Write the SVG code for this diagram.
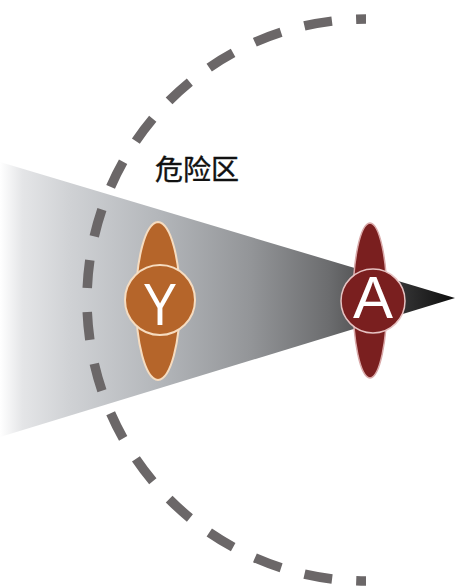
<svg xmlns="http://www.w3.org/2000/svg" width="456" height="588" viewBox="0 0 456 588">
<defs>
<linearGradient id="coneGrad" x1="0" y1="0" x2="456" y2="0" gradientUnits="userSpaceOnUse">
<stop offset="0" stop-color="#ffffff"/>
<stop offset="0.05" stop-color="#e4e5e7"/>
<stop offset="0.15" stop-color="#d0d2d5"/>
<stop offset="0.35" stop-color="#b3b6ba"/>
<stop offset="0.55" stop-color="#939598"/>
<stop offset="0.72" stop-color="#6c6d6f"/>
<stop offset="0.85" stop-color="#3e3e3f"/>
<stop offset="1" stop-color="#0c0c0c"/>
</linearGradient>
<style>
.arc{fill:none;stroke:#6b6768;stroke-width:9.5;stroke-dasharray:28 24.2;stroke-dashoffset:18}
.letter{font-family:"Liberation Sans","DejaVu Sans",sans-serif;font-size:60px;fill:#ffffff;text-anchor:middle}
.label{font-family:"Noto Sans CJK SC","Noto Sans",sans-serif;font-size:28px;fill:#111111;text-anchor:middle;stroke:#111111;stroke-width:0.4}
</style>
</defs>
<rect width="456" height="588" fill="#ffffff"/>
<path id="cone" d="M0,162 L455,298 L0,437 Z" fill="url(#coneGrad)"/>
<g id="connectors">
<path class="arc" d="M366,19 A279,281 0 0 0 366,581"/>
</g>
<g id="node-label">
<text class="label" x="197" y="180">危险区</text>
</g>
<g id="node-Y">
<path d="M158,222 C171,223 180,260 180,301 C180,342 171,379 158,380 C145,379 136,342 136,301 C136,260 145,223 158,222 Z" fill="#b5652a" stroke="#f6dcc0" stroke-width="2"/>
<circle cx="160" cy="300" r="35" fill="#b5652a" stroke="#f6dcc0" stroke-width="2"/>
<text class="letter" x="160" y="325" textLength="34" lengthAdjust="spacingAndGlyphs">Y</text>
</g>
<g id="node-A">
<path d="M370,223 C380,224 387,260 387,300 C387,341 380,377 370,378 C360,377 353,341 353,300 C353,260 360,224 370,223 Z" fill="#7a1f1f" stroke="#d9a9a9" stroke-width="1.5"/>
<circle cx="373" cy="301" r="32" fill="#7a1f1f" stroke="#e6c2c2" stroke-width="1.5"/>
<text class="letter" x="373" y="318">A</text>
</g>
</svg>
